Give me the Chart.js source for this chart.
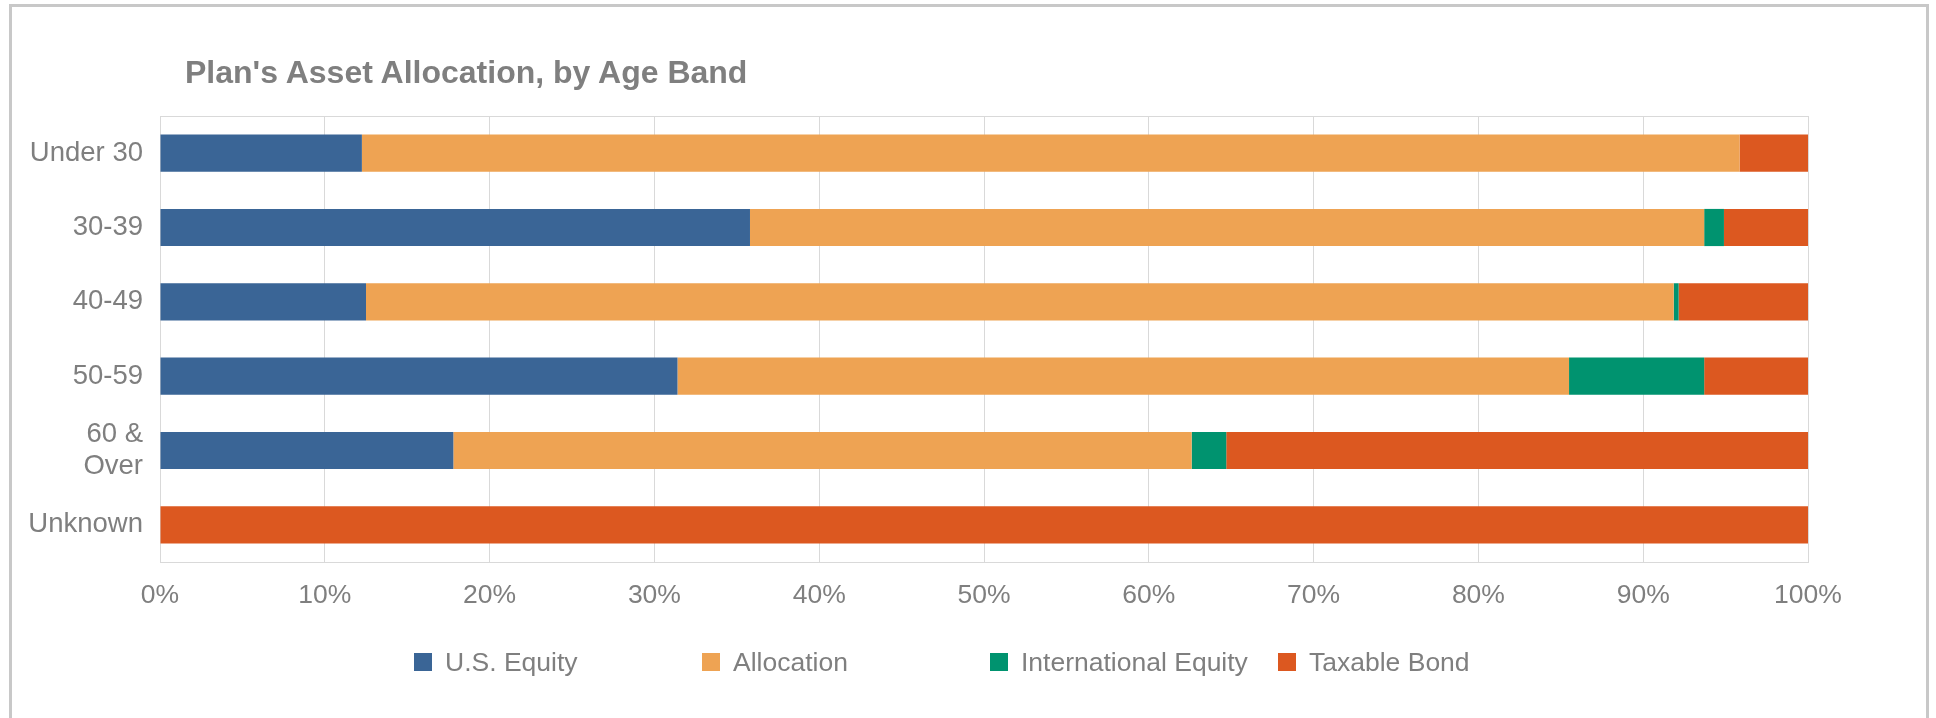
<!DOCTYPE html>
<html>
<head>
<meta charset="utf-8">
<script src="https://cdn.jsdelivr.net/npm/chart.js@4.4.1/dist/chart.umd.min.js"></script>
<style>
  html, body { margin:0; padding:0; background:#fff; overflow:hidden; }
  body { width:1936px; height:718px; position:relative; font-family:"Liberation Sans", Arial, sans-serif; }
  #frame { position:absolute; left:9px; top:4px; width:1920px; height:740px; border:3px solid #c8c8c8; box-sizing:border-box; }
  #chart { position:absolute; left:0; top:0; }
  #title { position:absolute; left:185px; top:56px; font-size:32px; line-height:32px; font-weight:bold; color:#7f7f7f; white-space:nowrap; }
  #legend { position:absolute; left:414px; top:647px; display:flex; height:30px; }
  .lg-item { width:288px; display:flex; align-items:center; font-size:26.5px; line-height:30px; color:#7f7f7f; white-space:nowrap; }
  .lg-box { width:18px; height:18px; margin-right:13px; flex:none; }
</style>
</head>
<body>
<div id="frame"></div>
<canvas id="chart" width="1936" height="718"></canvas>
<div id="title">Plan's Asset Allocation, by Age Band</div>
<div id="legend"></div>

<script>
// ── DATA ─────────────────────────────────────────
const ageBands    = ['Under 30', '30-39', '40-49', '50-59', ['60 &', 'Over'], 'Unknown'];
const usEquity    = [12.25, 35.8, 12.5, 31.4, 17.8, 0];
const allocation  = [83.6, 57.9, 79.35, 54.1, 44.8, 0];
const intlEquity  = [0, 1.2, 0.3, 8.2, 2.1, 0];
const taxableBond = [4.15, 5.1, 7.85, 6.3, 35.3, 100];

const seriesNames  = ['U.S. Equity', 'Allocation', 'International Equity', 'Taxable Bond'];
const seriesColors = ['#3a6596', '#eea353', '#00936f', '#dc5820'];

const GRID = '#d9d9d9';
const TEXT = '#7f7f7f';
const FONT = '"Liberation Sans", Arial, sans-serif';

// plot frame (top / bottom / right lines of the plot area)
const plotFrame = {
  id: 'plotFrame',
  beforeDatasetsDraw(chart) {
    const { ctx, chartArea: a } = chart;
    ctx.save();
    ctx.strokeStyle = GRID;
    ctx.lineWidth = 1;
    ctx.strokeRect(Math.round(a.left) + 0.5, Math.round(a.top) + 0.5, Math.round(a.width), Math.round(a.height));
    ctx.restore();
  }
};

const chart = new Chart(document.getElementById('chart'), {
  type: 'bar',
  data: {
    labels: ageBands,
    datasets: [usEquity, allocation, intlEquity, taxableBond].map((d, i) => ({
      label: seriesNames[i],
      data: d,
      backgroundColor: seriesColors[i],
      borderWidth: 0,
      borderSkipped: false,
      barPercentage: 0.5,
      categoryPercentage: 1.0,
    }))
  },
  options: {
    indexAxis: 'y',
    responsive: false,
    animation: false,
    layout: { padding: { top: 116, right: 128, left: 0, bottom: 0 } },
    plugins: {
      legend: { display: false },
      title: { display: false },
      tooltip: { enabled: false }
    },
    scales: {
      x: {
        stacked: true,
        min: 0, max: 100,
        ticks: {
          stepSize: 10,
          color: TEXT,
          padding: 18,
          font: { family: FONT, size: 26.5 },
          callback: v => v + '%'
        },
        grid: { color: GRID, lineWidth: 1, drawTicks: false },
        border: { display: true, color: GRID },
        afterFit: s => { s.height = 156; }
      },
      y: {
        stacked: true,
        ticks: {
          color: TEXT,
          padding: 17,
          font: { family: FONT, size: 27.5, lineHeight: 1.15 }
        },
        grid: { display: false, drawTicks: false },
        border: { display: false },
        afterFit: s => { s.width = 160; }
      }
    }
  },
  plugins: [plotFrame]
});

// ── LEGEND ───────────────────────────────────────
document.getElementById('legend').innerHTML = chart.data.datasets.map(ds => `
  <div class="lg-item"><span class="lg-box" style="background:${ds.backgroundColor}"></span>${ds.label}</div>`).join('');
</script>
</body>
</html>
